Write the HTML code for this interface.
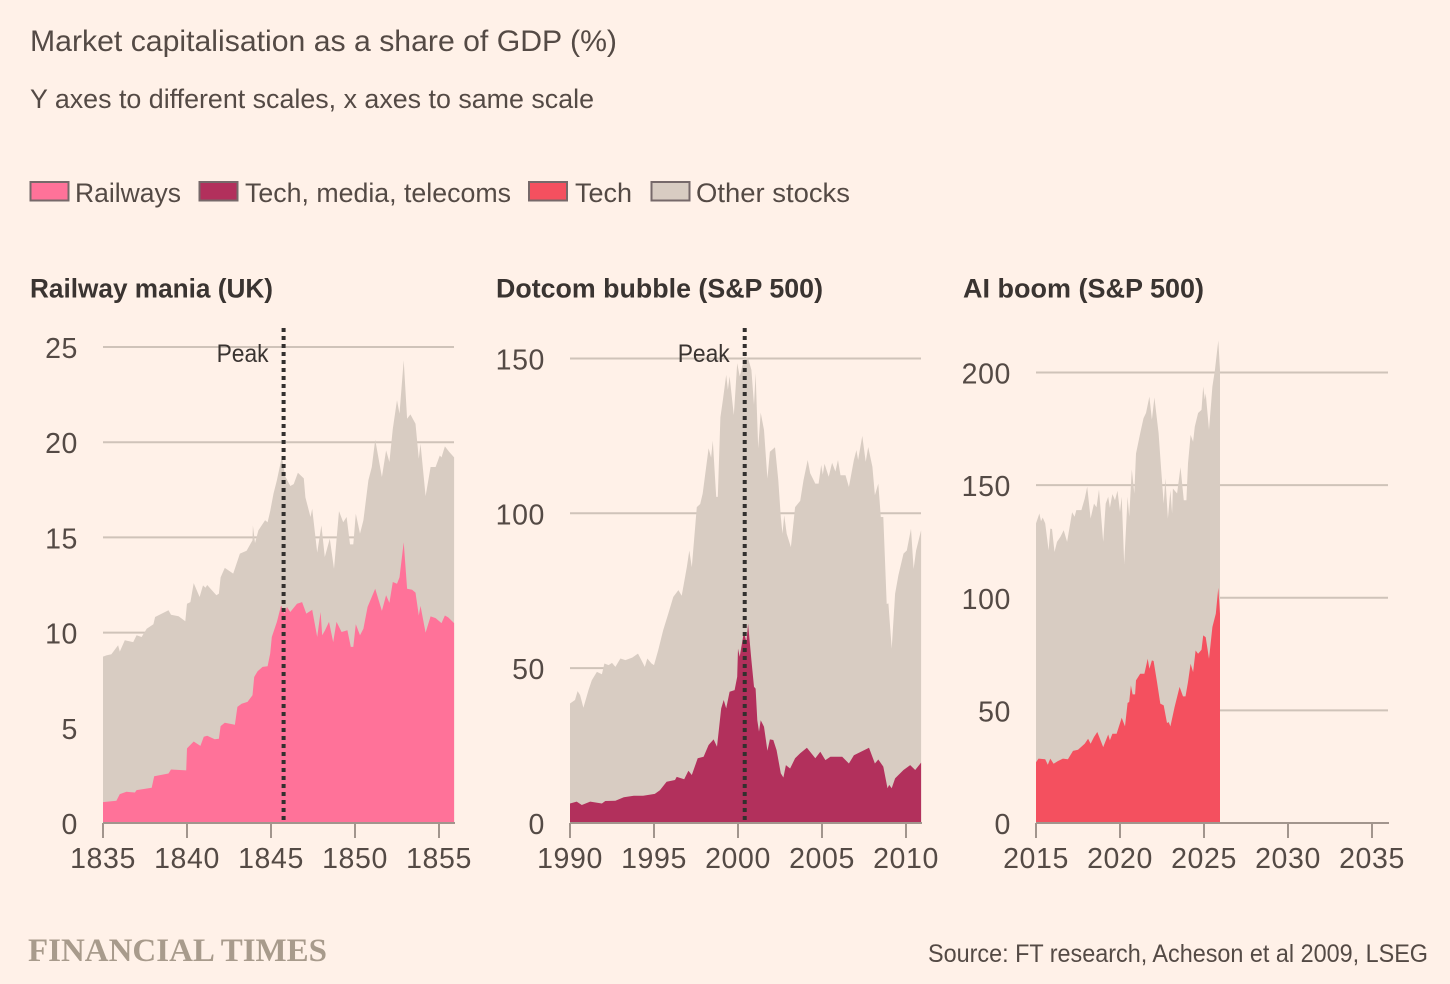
<!DOCTYPE html>
<html lang="en">
<head>
<meta charset="utf-8">
<title>Market capitalisation as a share of GDP</title>
<style>
html,body{margin:0;padding:0;background:#fff1e8;width:1450px;height:984px;overflow:hidden}
svg{display:block}
text{font-family:"Liberation Sans",sans-serif;fill:#544a45}
</style>
</head>
<body>
<svg id="chart" xmlns="http://www.w3.org/2000/svg" width="1450" height="984" viewBox="0 0 1450 984">
  <rect x="0" y="0" width="1450" height="984" fill="#fff1e8"/>
  <text x="30" y="51" font-size="30" textLength="587" lengthAdjust="spacingAndGlyphs">Market capitalisation as a share of GDP (%)</text>
  <text x="30" y="108" font-size="27" textLength="564" lengthAdjust="spacingAndGlyphs">Y axes to different scales, x axes to same scale</text>

  <g>
    <rect x="30.5" y="182" width="38" height="18.5" fill="#ff7299" stroke="#76696a" stroke-width="2"/>
    <text x="75" y="202" font-size="27" textLength="106" lengthAdjust="spacingAndGlyphs">Railways</text>
    <rect x="199.5" y="182" width="38" height="18.5" fill="#b2305c" stroke="#76696a" stroke-width="2"/>
    <text x="245" y="202" font-size="27" textLength="266" lengthAdjust="spacingAndGlyphs">Tech, media, telecoms</text>
    <rect x="529" y="182" width="38" height="18.5" fill="#f4505f" stroke="#76696a" stroke-width="2"/>
    <text x="575" y="202" font-size="27" textLength="57" lengthAdjust="spacingAndGlyphs">Tech</text>
    <rect x="651.5" y="182" width="38" height="18.5" fill="#d8ccc2" stroke="#76696a" stroke-width="2"/>
    <text x="696" y="202" font-size="27" textLength="154" lengthAdjust="spacingAndGlyphs">Other stocks</text>
  </g>

  <text x="30" y="297.5" font-size="26.5" font-weight="700" style="fill:#3a3431" textLength="243" lengthAdjust="spacingAndGlyphs">Railway mania (UK)</text>
  <text x="496" y="297.5" font-size="26.5" font-weight="700" style="fill:#3a3431" textLength="327" lengthAdjust="spacingAndGlyphs">Dotcom bubble (S&amp;P 500)</text>
  <text x="963" y="297.5" font-size="26.5" font-weight="700" style="fill:#3a3431" textLength="241" lengthAdjust="spacingAndGlyphs">AI boom (S&amp;P 500)</text>

  <g id="panels"></g>

  <text x="28" y="961" font-size="33" font-weight="700" style="font-family:'Liberation Serif',serif;fill:#a89b8c" textLength="299" lengthAdjust="spacingAndGlyphs">FINANCIAL TIMES</text>
  <text x="928" y="962" font-size="25" textLength="500" lengthAdjust="spacingAndGlyphs">Source: FT research, Acheson et al 2009, LSEG</text>
</svg>

<script>
// ---------- Railway mania data ----------
var railwayTotalDates = [1835,1835.2,1835.5,1835.9,1836,1836.3,1836.5,1836.8,1837,1837.3,1837.6,1838,1838.1,1838.5,1838.9,1839.05,1839.5,1839.9,1840,1840.2,1840.4,1840.75,1840.95,1841.1,1841.2,1841.75,1841.9,1842,1842.25,1842.75,1843.15,1843.55,1843.9,1843.92,1844.05,1844.25,1844.65,1844.8,1844.95,1845.15,1845.35,1845.65,1845.85,1846.15,1846.35,1846.6,1846.95,1847.05,1847.35,1847.45,1847.75,1848,1848.2,1848.5,1848.75,1849.05,1849.3,1849.5,1849.7,1849.9,1850.05,1850.3,1850.5,1850.8,1851,1851.2,1851.6,1851.85,1852.05,1852.25,1852.5,1852.65,1852.9,1853.1,1853.3,1853.6,1853.8,1853.9,1854.2,1854.5,1854.8,1855.05,1855.15,1855.35,1855.6,1855.9];
var railwayTotal = [8.74,8.8,8.86,9.34,9,9.6,9.56,9.5,9.86,9.77,10.2,10.44,10.82,11,11.17,10.94,10.86,10.6,11.52,11.6,12.6,11.87,12.48,12.36,12.5,11.96,12.05,12.9,13.4,13.1,14.15,14.3,14.85,15.63,14.7,15.37,15.9,15.8,16.38,17.3,18,19.25,18.2,17.7,17.8,18.4,18.1,17.1,16.07,16.5,14.2,15.63,13.97,14.93,13.35,16.38,15.8,16.07,14.63,14.63,16.24,15.2,15.9,18,18.7,20.13,18.17,19.57,18.96,20.7,22.2,21.5,24.3,21.23,21.46,20.97,19.13,19.92,17.17,18.7,18.7,19.3,19.2,19.78,19.5,19.2];
var railwayShareDates = [1835,1835.8,1836,1836.4,1836.9,1837,1837.9,1838.05,1838.9,1839.05,1839.95,1840,1840.4,1840.8,1841,1841.2,1841.65,1841.9,1842,1842.25,1842.85,1843,1843.25,1843.6,1843.9,1844,1844.2,1844.5,1844.8,1844.95,1845.05,1845.35,1845.6,1845.8,1845.95,1846.15,1846.55,1846.85,1847.1,1847.45,1847.75,1847.95,1848.05,1848.2,1848.45,1848.7,1848.9,1849.2,1849.55,1849.75,1849.9,1850.05,1850.3,1850.5,1850.75,1851.2,1851.6,1851.85,1852.05,1852.25,1852.5,1852.65,1852.9,1853.1,1853.4,1853.6,1853.8,1853.9,1854.2,1854.5,1854.8,1855.15,1855.35,1855.55,1855.9];
var railwayShare = [1.1,1.17,1.52,1.64,1.6,1.73,1.85,2.46,2.6,2.81,2.76,3.92,4.28,4.05,4.53,4.58,4.4,4.42,5.09,5.26,5.16,6.1,6.26,6.36,6.71,7.67,7.97,8.2,8.23,8.9,9.77,10.56,11.43,11,11.35,11.08,11.52,11.6,11,11.2,9.77,11.08,9.86,10.1,10.56,9.5,10.56,10.03,10.12,9.25,9.25,10.44,9.86,10.2,11.35,12.3,11.14,11.96,11.56,12.66,12.57,12.9,14.75,12.3,12.25,12.1,10.9,11.4,10,10.85,10.76,10.5,10.9,10.8,10.5];
var railwayYTicks = [0,5,10,15,20,25];
var railwayXTicks = [1835,1840,1845,1850,1855];
var railwayPeak = 1845.75;

// ---------- Dotcom bubble data ----------
var dotcomTotalDates = [1990,1990.3,1990.45,1990.6,1990.8,1991.1,1991.3,1991.6,1991.9,1992.05,1992.3,1992.5,1992.7,1993,1993.3,1993.7,1994.05,1994.25,1994.45,1994.6,1994.85,1995,1995.25,1995.55,1995.85,1996.15,1996.45,1996.65,1996.95,1997.1,1997.25,1997.55,1997.75,1997.9,1998.25,1998.4,1998.5,1998.7,1998.8,1998.95,1999.1,1999.3,1999.4,1999.5,1999.75,1999.85,1999.95,2000.1,2000.4,2000.6,2000.8,2000.95,2001.05,2001.2,2001.35,2001.55,2001.75,2001.9,2002.2,2002.4,2002.55,2002.65,2002.75,2002.9,2003.15,2003.4,2003.7,2003.9,2004.15,2004.3,2004.6,2004.8,2004.95,2005.05,2005.15,2005.4,2005.6,2005.8,2005.95,2006.1,2006.4,2006.6,2006.9,2007.05,2007.15,2007.4,2007.6,2007.75,2008,2008.15,2008.35,2008.5,2008.65,2008.85,2008.95,2009.15,2009.35,2009.55,2009.85,2010.05,2010.3,2010.45,2010.6,2010.9];
var dotcomTotal = [38.6,39.7,42.6,41.3,37.2,42.9,46.1,48.8,48,51.5,51,51.7,50.4,53.1,52.6,53.4,54.7,52.6,50.4,53.1,51.5,51,55.8,62.3,67.6,73,75.2,73.4,82.6,88,82.6,102,103,106.4,121,118,123.4,105.3,105.3,131,136.6,144.7,139.9,144.2,131.7,139.9,148.5,144.2,150.6,150,146.3,135,145.2,121,132.5,126.9,111.2,119.9,121.3,110.7,98.8,93.4,99.4,93.4,89.1,102,104,110.7,117.2,112.9,109.6,109.6,115.6,112.5,116,111.8,116.3,113.5,117.2,112.3,112.3,108.5,117.2,120.4,117.2,125,116.6,121.4,115,105.8,109.6,98.8,98.8,70.7,70.9,56.3,74,80,87,88,95,82,88,94.5];
var dotcomShareDates = [1990,1990.4,1990.7,1991.2,1991.9,1992.1,1992.7,1993.2,1993.8,1994.35,1995.05,1995.35,1995.75,1996.25,1996.35,1996.8,1997.05,1997.25,1997.6,1997.95,1998.25,1998.55,1998.75,1999,1999.15,1999.3,1999.5,1999.8,1999.95,2000,2000.1,2000.35,2000.5,2000.6,2000.8,2000.95,2001.05,2001.15,2001.25,2001.35,2001.55,2001.75,2001.9,2002.1,2002.3,2002.55,2002.7,2002.85,2003.1,2003.4,2003.7,2004.1,2004.6,2004.9,2005.2,2005.5,2006.2,2006.6,2006.9,2007.5,2007.8,2008.15,2008.35,2008.65,2008.9,2009,2009.15,2009.35,2009.85,2010.25,2010.55,2010.9];
var dotcomShare = [6.3,6.9,5.8,6.9,6.3,7.1,7.2,8.3,8.8,8.8,9.4,10.6,13.3,13.9,14.9,14.1,16.9,15.5,20.9,21.4,25.2,27,24.6,37,39.7,37,42.4,42.9,47.2,56.3,53.7,61.7,58.5,64.4,52.6,44,43.4,33.2,29.5,33.2,31.1,23.3,27,26.8,23.5,16,14.7,18.7,17.6,20.9,22.5,24.3,20.9,23,20.3,21.4,21.4,19.2,21.9,23.5,24.3,19.2,20.5,18.2,11.2,12.3,11.2,14.4,17.1,18.7,17.1,19.5];
var dotcomYTicks = [0,50,100,150];
var dotcomXTicks = [1990,1995,2000,2005,2010];
var dotcomPeak = 2000.4;

// ---------- AI boom data ----------
var aiTotalDates = [2015,2015.2,2015.3,2015.4,2015.55,2015.75,2015.85,2015.95,2016.1,2016.25,2016.45,2016.65,2016.85,2017.15,2017.3,2017.4,2017.7,2017.9,2018.05,2018.25,2018.45,2018.6,2018.75,2019,2019.15,2019.3,2019.4,2019.55,2019.7,2019.85,2020,2020.1,2020.25,2020.45,2020.55,2020.7,2020.85,2020.95,2021.2,2021.4,2021.55,2021.75,2021.9,2022.05,2022.3,2022.45,2022.6,2022.7,2022.85,2023,2023.1,2023.15,2023.4,2023.6,2023.8,2023.95,2024.05,2024.2,2024.35,2024.45,2024.65,2024.85,2024.95,2025.05,2025.1,2025.3,2025.5,2025.65,2025.85,2025.95];
var aiTotal = [133,137.4,134,135.6,133,121,130.7,130.5,120.3,124.8,127,130,124.8,138,136,138.9,138.9,144,149.3,135.2,141.8,140.2,148,124.8,141.8,144.8,140,146,143.3,147.5,138.1,144.8,115,144.8,136,157,146.3,164,173,179.7,182,189.3,179,188.9,173,156.7,141.8,153,135.2,147.8,137.4,148.5,146.3,158,143.3,143.3,159.6,172.3,169.3,176,182,183.4,193.8,188,190.8,174.5,193.8,201,214.2,201];
var aiShareDates = [2015,2015.15,2015.55,2015.7,2015.85,2016.05,2016.3,2016.6,2016.9,2017.2,2017.5,2017.9,2018.1,2018.25,2018.45,2018.65,2019,2019.3,2019.4,2019.55,2019.8,2020.1,2020.3,2020.45,2020.55,2020.65,2020.75,2020.9,2020.95,2021.2,2021.45,2021.65,2021.75,2021.9,2022,2022.2,2022.4,2022.6,2022.8,2022.9,2023,2023.25,2023.55,2023.75,2023.9,2024.05,2024.2,2024.35,2024.5,2024.65,2024.85,2024.95,2025.1,2025.3,2025.5,2025.7,2025.85,2025.95];
var aiShare = [27,28.6,28.3,25.9,28.6,26.3,27.5,28.6,28.3,32,32.5,35.2,37.4,35.2,38.2,40.4,33.7,39.3,36.7,39.6,39.6,46.7,42.9,53.3,53.7,61.1,57.1,57.1,63.3,66.3,66.3,72.9,68.5,72.2,71.9,62.6,53,52.2,44.4,44.8,42.9,51.5,60.4,56.2,56.2,62.6,70.7,67,76.6,75.1,76.9,83.3,82.5,72.9,87,92.9,104.4,92.9];
var aiYTicks = [0,50,100,150,200];
var aiXTicks = [2015,2020,2025,2030,2035];

// ---------- Drawing ----------
var NS = 'http://www.w3.org/2000/svg';
var root = document.getElementById('panels');

function make(tag, attrs, parent) {
  var el = document.createElementNS(NS, tag);
  for (var k in attrs) el.setAttribute(k, attrs[k]);
  parent.appendChild(el);
  return el;
}

function areaPoints(dates, values, x, y, base) {
  var pts = [x(dates[0]).toFixed(1) + ',' + base];
  for (var i = 0; i < dates.length; i++) {
    pts.push(x(dates[i]).toFixed(1) + ',' + y(values[i]).toFixed(1));
  }
  pts.push(x(dates[dates.length - 1]).toFixed(1) + ',' + base);
  return pts.join(' ');
}

function drawPanel(p) {
  var g = make('g', {}, root);
  
  

  var base = 823;
  var x = function (d) { return p.left + (d - p.xStart) * 16.8; };
  var y = function (v) { return base - v * p.pxPerUnit; };

  p.yTicks.forEach(function (t) {
    if (t !== 0) {
      var grid = make('line', { x1: p.left, x2: p.right, y1: y(t), y2: y(t), stroke: '#cfc3b9', 'stroke-width': 2 }, g);
      
      
    }
    var label = make('text', { x: p.left - 25, y: y(t) + 11, 'text-anchor': 'end', 'font-size': 28.5, 'letter-spacing': 0.6 }, g);
    
    
    label.textContent = t;
  });

  var totalArea = make('polygon', { points: areaPoints(p.totalDates, p.total, x, y, base), fill: '#d8ccc2' }, g);
  
  

  var shareArea = make('polygon', { points: areaPoints(p.shareDates, p.share, x, y, base), fill: p.color }, g);
  
  

  var axis = make('line', { x1: p.left, x2: p.right + 1, y1: base, y2: base, stroke: '#a2958d', 'stroke-width': 2 }, g);
  
  

  p.xTicks.forEach(function (t) {
    var tick = make('line', { x1: x(t), x2: x(t), y1: base, y2: base + 15, stroke: '#a2958d', 'stroke-width': 2 }, g);
    
    
    var label = make('text', { x: x(t), y: 868, 'text-anchor': 'middle', 'font-size': 28.5, 'letter-spacing': 0.6 }, g);
    
    
    label.textContent = t;
  });

  if (p.peak !== undefined) {
    var peakLine = make('line', { x1: x(p.peak), x2: x(p.peak), y1: 328, y2: 820, stroke: '#33302e', 'stroke-width': 4, 'stroke-dasharray': '4 4' }, g);
    
    
    var peakLabel = make('text', { x: x(p.peak) - 67, y: 362, 'font-size': 25, textLength: 52, lengthAdjust: 'spacingAndGlyphs', style: 'fill:#3a3431' }, g);
    
    
    peakLabel.textContent = 'Peak';
  }
}

drawPanel({ name: 'railway-mania', shareName: 'railways', left: 103, right: 454, xStart: 1835, pxPerUnit: 19.04, color: '#ff7299',
  totalDates: railwayTotalDates, total: railwayTotal, shareDates: railwayShareDates, share: railwayShare,
  yTicks: railwayYTicks, xTicks: railwayXTicks, peak: railwayPeak });
drawPanel({ name: 'dotcom-bubble', shareName: 'tech-media-telecoms', left: 570, right: 921, xStart: 1990, pxPerUnit: 3.097, color: '#b2305c',
  totalDates: dotcomTotalDates, total: dotcomTotal, shareDates: dotcomShareDates, share: dotcomShare,
  yTicks: dotcomYTicks, xTicks: dotcomXTicks, peak: dotcomPeak });
drawPanel({ name: 'ai-boom', shareName: 'tech', left: 1036, right: 1388, xStart: 2015, pxPerUnit: 2.2525, color: '#f4505f',
  totalDates: aiTotalDates, total: aiTotal, shareDates: aiShareDates, share: aiShare,
  yTicks: aiYTicks, xTicks: aiXTicks });
</script>
</body>
</html>
